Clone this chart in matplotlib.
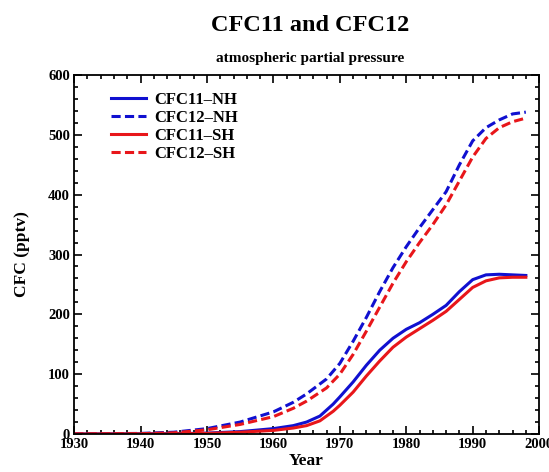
import matplotlib.pyplot as plt
from matplotlib.ticker import MultipleLocator

# values (pptv)
years_12 = [1930, 1940, 1945, 1950, 1955, 1960, 1963, 1965, 1968, 1970, 1972, 1974,
            1976, 1978, 1980, 1982, 1984, 1986, 1988, 1990, 1992, 1994, 1996, 1998]
cfc12_nh = [0, 1, 3, 9, 20, 37, 53, 67, 92, 118, 155, 195,
            238, 278, 313, 345, 375, 405, 450, 490, 512, 525, 535, 538]
cfc12_sh = [0, 0.5, 2, 7, 16, 29, 43, 55, 77, 100, 133, 172,
            212, 252, 288, 320, 350, 383, 423, 463, 494, 512, 522, 528]

years_11 = [1930, 1945, 1950, 1955, 1960, 1963, 1965, 1967, 1969, 1970, 1972, 1974,
            1976, 1978, 1980, 1982, 1984, 1986, 1988, 1990, 1992, 1994, 1996, 1998]
cfc11_nh = [0, 0.5, 1.5, 4, 9, 14, 20, 30, 50, 62, 87, 115,
            140, 160, 175, 186, 200, 215, 238, 258, 266, 267, 266, 265]
cfc11_sh = [0, 0.3, 1, 3, 6, 10, 14, 22, 38, 48, 70, 97,
            122, 145, 162, 176, 190, 205, 225, 245, 256, 261, 262, 262]

plt.rcParams['font.family'] = ['Liberation Serif', 'DejaVu Serif']
plt.rcParams['font.weight'] = 'bold'

fig = plt.figure(figsize=(5.49, 4.72), dpi=100)
ax = fig.add_axes([0.135, 0.0805, 0.847, 0.7605])

dash = (3, 1.4)
ax.plot(years_11, cfc11_nh, color='#1010d0', lw=2.2, label='CFC11\u2013NH')
ax.plot(years_12, cfc12_nh, color='#1010d0', lw=2.2, dashes=dash, label='CFC12\u2013NH')
ax.plot(years_11, cfc11_sh, color='#e8161a', lw=2.2, label='CFC11\u2013SH')
ax.plot(years_12, cfc12_sh, color='#e8161a', lw=2.2, dashes=dash, label='CFC12\u2013SH')

ax.set_xlim(1930, 2000)
ax.set_ylim(0, 600)
ax.xaxis.set_major_locator(MultipleLocator(10))
ax.xaxis.set_minor_locator(MultipleLocator(2))
ax.yaxis.set_major_locator(MultipleLocator(100))
ax.yaxis.set_minor_locator(MultipleLocator(20))
ax.tick_params(which='both', direction='in', top=True, right=True, width=1.2)
ax.tick_params(which='major', length=6, labelsize=10.5, pad=3)
ax.tick_params(which='minor', length=3)
for s in ax.spines.values():
    s.set_linewidth(1.3)

ax.set_xlabel('Year', fontsize=12.5, fontweight='bold', labelpad=1)
ax.set_ylabel('CFC (pptv)', fontsize=12.5, fontweight='bold', labelpad=13)

fig.text(0.565, 0.945, 'CFC11 and CFC12', ha='center', va='center',
         fontsize=17.5, fontweight='bold')
fig.text(0.565, 0.876, 'atmospheric partial pressure', ha='center', va='center',
         fontsize=11, fontweight='bold')

ax.legend(loc='upper left', frameon=False, fontsize=12, handlelength=2.1,
          handletextpad=0.45, labelspacing=0.12, borderaxespad=0.3,
          bbox_to_anchor=(0.055, 0.985))

fig.savefig('out.png', dpi=100)
